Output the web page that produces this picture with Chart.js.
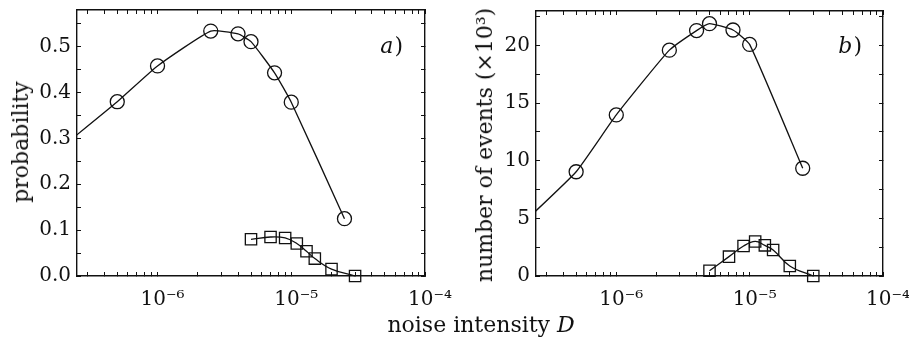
<!DOCTYPE html>
<html>
<head>
<meta charset="utf-8">
<script src="https://cdn.jsdelivr.net/npm/chart.js@4/dist/chart.umd.min.js"></script>
<style>
  body { margin: 0; background: #fff; }
  #wrap { position: relative; width: 909px; height: 339px; overflow: hidden; }
  canvas { position: absolute; top: 0; }
  .lbl { position: absolute; font-family: 'DejaVu Serif', serif; font-size: 22px; line-height: 22px; color: #111; white-space: nowrap; }
  .rot { transform: translate(-50%, -50%) rotate(-90deg); }
</style>
</head>
<body>
<div id="wrap">
  <canvas id="chartA" width="455" height="339" style="left:0"></canvas>
  <canvas id="chartB" width="454" height="339" style="left:455px"></canvas>
  <div class="lbl rot" style="left:21px; top:142px">probability</div>
  <div class="lbl rot" style="left:485px; top:145px">number of events (×10³)</div>
  <div class="lbl" style="left:481px; top:314px; transform:translateX(-50%)">noise intensity <i>D</i></div>
</div>
<script>
// ---- данные ----
// шум D для кружков / квадратов
const circleD = [2e-7, 5e-7, 1e-6, 2.5e-6, 4e-6, 5e-6, 7.5e-6, 1e-5, 2.5e-5];
const squareD = [5e-6, 7e-6, 9e-6, 1.1e-5, 1.3e-5, 1.5e-5, 2e-5, 3e-5];

// панель a) вероятность
const probCircle = [0.285, 0.380, 0.458, 0.534, 0.528, 0.511, 0.443, 0.379, 0.125];
const probSquare = [0.080, 0.085, 0.083, 0.071, 0.054, 0.038, 0.015, 0.000];

// панель b) число событий (x10^3)
const eventsCircle = [4.6, 9.05, 13.98, 19.6, 21.3, 21.9, 21.35, 20.1, 9.35];
const eventsSquare = [0.46, 1.68, 2.6, 3.0, 2.66, 2.26, 0.87, 0.0];

// оси
const xMin = 2.5e-7, xMax = 1e-4;
const xDecades = [1e-7, 1e-6, 1e-5];
const xMantissas = [1, 2, 3, 4, 5, 6, 7, 8, 9];
const xLabelAt = [1e-6, 1e-5, 1e-4];
const xTickLabels = ['10⁻⁶', '10⁻⁵', '10⁻⁴'];

const probMajor = [0, 0.1, 0.2, 0.3, 0.4, 0.5];
const probMinor = [0.05, 0.15, 0.25, 0.35, 0.45, 0.55];
const eventsMajor = [0, 5, 10, 15, 20];
const eventsMinor = [2.5, 7.5, 12.5, 17.5, 22.5];

const INK = '#111';
const FONT = "'DejaVu Serif', serif";
Chart.defaults.font.family = FONT;
Chart.defaults.color = INK;

// все деления оси x (мелкие + крупные)
const xTicks = [];
xDecades.forEach(d => xMantissas.forEach(m => {
  const v = m * d;
  if (v >= xMin && v <= xMax) xTicks.push(v);
}));
xTicks.push(xMax);

function xLabel(v) {
  const i = xLabelAt.findIndex(t => Math.abs(Math.log10(t) - Math.log10(v)) < 1e-6);
  return i >= 0 ? xTickLabels[i] : '';
}

// фиксированный размер оси, без доп. отступов под подписи
function fixSize(prop, size) {
  return s => {
    s[prop] = size;
    s.paddingTop = s.paddingBottom = s.paddingLeft = s.paddingRight = 0;
  };
}

const border = { color: INK, width: 1.4 };
const grid = { drawOnChartArea: false, tickLength: -4, tickColor: INK, tickWidth: 1 };

function scales(yMax, yMajor, yMinor, yFmt, yWidth) {
  const yAll = [...yMajor, ...yMinor].sort((a, b) => a - b);
  return {
    x: {
      type: 'logarithmic', position: 'bottom', min: xMin, max: xMax,
      afterBuildTicks: s => { s.ticks = xTicks.map(v => ({ value: v })); },
      afterFit: fixSize('height', 339 - 276),
      border, grid,
      ticks: { autoSkip: false, maxRotation: 0, padding: 16, labelOffset: 5,
               font: { size: 20 }, color: INK, callback: v => xLabel(v) }
    },
    x2: {
      type: 'logarithmic', position: 'top', min: xMin, max: xMax,
      afterBuildTicks: s => { s.ticks = xTicks.map(v => ({ value: v })); },
      afterFit: fixSize('height', 0),
      border, grid, ticks: { display: false }
    },
    y: {
      type: 'linear', position: 'left', min: 0, max: yMax,
      afterBuildTicks: s => { s.ticks = yAll.map(v => ({ value: v })); },
      afterFit: fixSize('width', yWidth),
      border, grid,
      ticks: { autoSkip: false, padding: 10, font: { size: 20 }, color: INK,
               callback: v => yMajor.includes(v) ? yFmt(v) : '' }
    },
    y2: {
      type: 'linear', position: 'right', min: 0, max: yMax,
      afterBuildTicks: s => { s.ticks = yAll.map(v => ({ value: v })); },
      afterFit: fixSize('width', 0),
      border, grid, ticks: { display: false }
    }
  };
}

function series(xs, ys, style, tension) {
  return {
    data: xs.map((x, i) => ({ x, y: ys[i] })),
    borderColor: INK, borderWidth: 1.3, tension,
    pointStyle: style, pointRadius: style === 'rect' ? 8 : 7,
    pointBorderColor: INK, pointBorderWidth: 1.3,
    pointBackgroundColor: 'rgba(0,0,0,0)',
    clip: { left: 0, top: 12, right: 12, bottom: 12 }
  };
}

// подпись панели a) / b)
const panelTag = {
  id: 'panelTag',
  afterDraw(chart, args, opts) {
    const { ctx, chartArea } = chart;
    const x = chartArea.right - opts.dx, y = chartArea.top + opts.dy;
    ctx.save();
    ctx.fillStyle = INK;
    ctx.textAlign = 'right';
    ctx.textBaseline = 'alphabetic';
    ctx.font = `22px ${FONT}`;
    ctx.fillText(')', x, y);
    const w = ctx.measureText(')').width;
    ctx.font = `italic 22px ${FONT}`;
    ctx.fillText(opts.text, x - w - 1, y);
    ctx.restore();
  }
};

function makeChart(id, yCircle, ySquare, yMax, yMajor, yMinor, yFmt, yWidth, padding, tag) {
  return new Chart(document.getElementById(id), {
    type: 'line',
    data: {
      datasets: [
        series(circleD, yCircle, 'circle', 0.15),
        series(squareD, ySquare, 'rect', 0.4)
      ]
    },
    options: {
      responsive: false,
      animation: false,
      layout: { padding },
      scales: scales(yMax, yMajor, yMinor, yFmt, yWidth),
      plugins: { legend: { display: false }, tooltip: { enabled: false }, panelTag: tag }
    },
    plugins: [panelTag]
  });
}

makeChart('chartA', probCircle, probSquare, 0.58, probMajor, probMinor,
  v => v.toFixed(1), 77, { left: 0, right: 30, top: 10, bottom: 0 }, { text: 'a', dx: 22, dy: 43 });
makeChart('chartB', eventsCircle, eventsSquare, 23, eventsMajor, eventsMinor,
  v => String(v), 81, { left: 0, right: 26, top: 11, bottom: 0 }, { text: 'b', dx: 21, dy: 42 });
</script>
</body>
</html>
